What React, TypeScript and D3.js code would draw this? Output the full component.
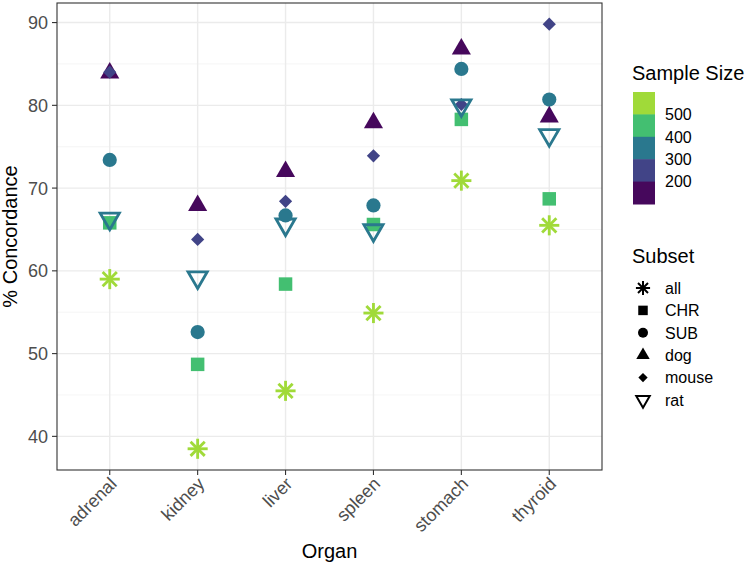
import React from 'react';
import * as d3 from 'd3';

const organs = ['adrenal', 'kidney', 'liver', 'spleen', 'stomach', 'thyroid'];
const subsets = ['all', 'CHR', 'SUB', 'dog', 'mouse', 'rat'];

// % concordance per subset, one value per organ
const allVals = [59.0, 38.5, 45.5, 54.9, 70.9, 65.5];
const chrVals = [65.8, 48.7, 58.4, 65.6, 78.3, 68.7];
const subVals = [73.4, 52.6, 66.7, 67.9, 84.4, 80.7];
const dogVals = [83.9, 67.9, 72.0, 77.9, 86.8, 78.6];
const mouseVals = [84.0, 63.8, 68.4, 73.9, 80.1, 89.8];
const ratVals = [66.3, 59.2, 65.6, 64.9, 80.0, 76.4];

// sample size per subset (binned colour)
const sampleSizes = [550, 450, 350, 150, 250, 350];

const sizeBreaks = [200, 300, 400, 500];
const sizeColors = ['#46085c', '#414487', '#2a788e', '#43bf71', '#a0da39'];
const yTicks = [40, 50, 60, 70, 80, 90];
const yMinor = [45, 55, 65, 75, 85];

const seriesVals = [allVals, chrVals, subVals, dogVals, mouseVals, ratVals];

const W = 750, H = 566;
const panel = { left: 57, right: 602, top: 3, bottom: 470 };
const font = '"Liberation Sans", Arial, Helvetica, sans-serif';

const TRC0 = Math.sqrt((4 * Math.PI) / (3 * Math.sqrt(3)));
const TRC1 = (TRC0 * Math.sqrt(3)) / 2;
const TRC2 = TRC0 / 2;

// R-style point shapes drawn around (0,0)
function Shape({ subset, r, color }: { subset: string; r: number; color: string }) {
  const lw = r * 0.4;
  if (subset === 'all') {
    const d = r * Math.SQRT2;
    return (
      <g stroke={color} strokeWidth={lw} strokeLinecap="butt">
        <line x1={-r} y1={-r} x2={r} y2={r} />
        <line x1={-r} y1={r} x2={r} y2={-r} />
        <line x1={-d} y1={0} x2={d} y2={0} />
        <line x1={0} y1={-d} x2={0} y2={d} />
      </g>
    );
  }
  if (subset === 'CHR') return <rect x={-r * 0.95} y={-r * 0.95} width={r * 1.9} height={r * 1.9} fill={color} />;
  if (subset === 'SUB') return <circle r={r} fill={color} />;
  if (subset === 'dog') {
    const p = `M0,${-TRC0 * r}L${TRC1 * r},${TRC2 * r}L${-TRC1 * r},${TRC2 * r}Z`;
    return <path d={p} fill={color} />;
  }
  if (subset === 'mouse') {
    const s = r * 0.93;
    return <path d={`M0,${-s}L${s},0L0,${s}L${-s},0Z`} fill={color} />;
  }
  const p = `M0,${TRC0 * r}L${TRC1 * r},${-TRC2 * r}L${-TRC1 * r},${-TRC2 * r}Z`;
  return <path d={p} fill="none" stroke={color} strokeWidth={lw} strokeLinejoin="miter" />;
}

export default function App() {
  const x = d3.scalePoint<string>().domain(organs).range([panel.left, panel.right]).padding(0.6);
  const ext = d3.extent(seriesVals.flat()) as [number, number];
  const pad = (ext[1] - ext[0]) * 0.05;
  const y = d3.scaleLinear().domain([ext[0] - pad, ext[1] + pad]).range([panel.bottom, panel.top]);
  const color = d3.scaleThreshold<number, string>().domain(sizeBreaks).range(sizeColors);

  const points = subsets.flatMap((s, si) =>
    organs.map((o, oi) => ({ subset: s, organ: o, value: seriesVals[si][oi], size: sampleSizes[si] }))
  );

  const barTop = 92, blockH = 22.4;
  const legendBlocks = [...sizeColors].reverse();
  const legendLabels = [...sizeBreaks].reverse();

  return (
    <svg width={W} height={H} style={{ position: 'absolute', left: 0, top: 0, background: '#fff' }} fontFamily={font}>
      <rect x={0} y={0} width={W} height={H} fill="#fff" />
      {/* grid */}
      {yMinor.map(v => (
        <line key={'mi' + v} x1={panel.left} x2={panel.right} y1={y(v)} y2={y(v)} stroke="#f2f2f2" strokeWidth={0.8} />
      ))}
      {yTicks.map(v => (
        <line key={'ma' + v} x1={panel.left} x2={panel.right} y1={y(v)} y2={y(v)} stroke="#ebebeb" strokeWidth={1.4} />
      ))}
      {organs.map(o => (
        <line key={'gx' + o} x1={x(o)} x2={x(o)} y1={panel.top} y2={panel.bottom} stroke="#ebebeb" strokeWidth={1.4} />
      ))}

      {/* points */}
      {points.map((p, i) => (
        <g key={i} transform={`translate(${x(p.organ)},${y(p.value)})`}>
          <Shape subset={p.subset} r={7.1} color={color(p.size)} />
        </g>
      ))}

      <rect x={panel.left} y={panel.top} width={panel.right - panel.left} height={panel.bottom - panel.top}
        fill="none" stroke="#333" strokeWidth={1.1} />

      {/* y axis */}
      {yTicks.map(v => (
        <g key={'yt' + v}>
          <line x1={panel.left - 5} x2={panel.left} y1={y(v)} y2={y(v)} stroke="#333" strokeWidth={1.1} />
          <text x={panel.left - 9} y={y(v)} dy="0.36em" textAnchor="end" fontSize={18} fill="#4d4d4d">{v}</text>
        </g>
      ))}
      <text transform={`translate(17,${(panel.top + panel.bottom) / 2}) rotate(-90)`} textAnchor="middle" fontSize={20} fill="#000">
        % Concordance
      </text>

      {/* x axis */}
      {organs.map(o => (
        <g key={'xt' + o}>
          <line x1={x(o)} x2={x(o)} y1={panel.bottom} y2={panel.bottom + 5} stroke="#333" strokeWidth={1.1} />
          <text transform={`translate(${(x(o) as number) + 8},${panel.bottom + 15}) rotate(-45)`} textAnchor="end"
            fontSize={18} fill="#4d4d4d">{o}</text>
        </g>
      ))}
      <text x={(panel.left + panel.right) / 2} y={558} textAnchor="middle" fontSize={20} fill="#000">Organ</text>

      {/* colour legend */}
      <text x={632} y={80} fontSize={20} fill="#000">Sample Size</text>
      {legendBlocks.map((c, i) => (
        <rect key={'lb' + i} x={633} y={barTop + i * blockH} width={22} height={blockH + 0.5} fill={c} />
      ))}
      {legendLabels.map((l, i) => (
        <text key={'ll' + l} x={665} y={barTop + (i + 1) * blockH} dy="0.36em" fontSize={16} fill="#000">{l}</text>
      ))}

      {/* shape legend */}
      <text x={632} y={263} fontSize={20} fill="#000">Subset</text>
      {subsets.map((s, i) => (
        <g key={'sl' + s}>
          <g transform={`translate(643,${288 + i * 22.4})`}>
            <Shape subset={s} r={5} color="#000" />
          </g>
          <text x={665} y={288 + i * 22.4} dy="0.36em" fontSize={16} fill="#000">{s}</text>
        </g>
      ))}
    </svg>
  );
}
